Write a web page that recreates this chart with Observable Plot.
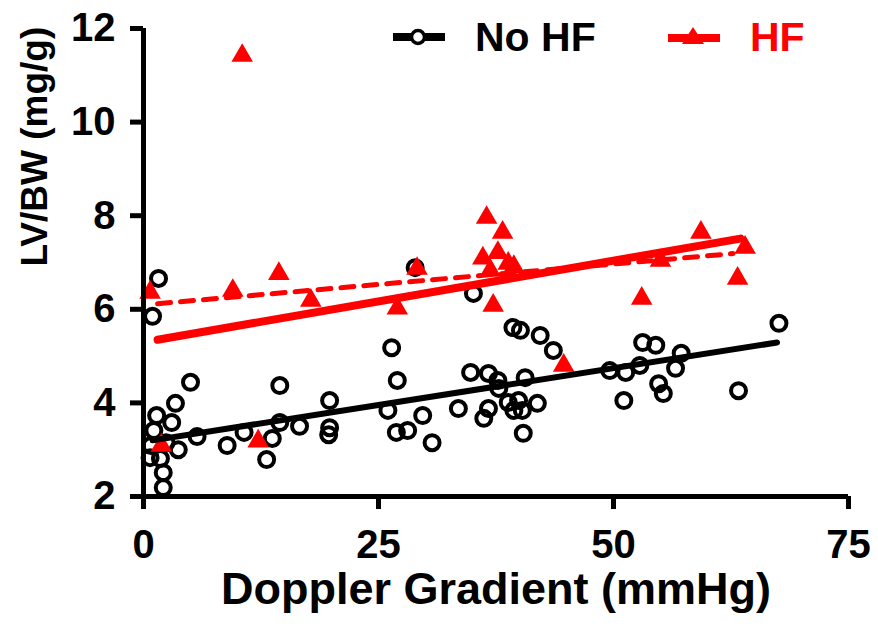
<!DOCTYPE html>
<html>
<head>
<meta charset="utf-8">
<script src="https://cdn.jsdelivr.net/npm/d3@7"></script>
<script src="https://cdn.jsdelivr.net/npm/@observablehq/plot@0.6"></script>
<style>
  html, body { margin: 0; padding: 0; background: #fff; }
  #wrap { position: relative; width: 878px; height: 631px; font-family: "Liberation Sans", Arial, sans-serif; }
  .leg { position: absolute; top: 14px; font-size: 41px; font-weight: bold; line-height: 46px; display: flex; align-items: center; }
  .leg svg { margin-right: 30px; }
</style>
</head>
<body>
<div id="wrap">
  <div id="chart"></div>
  <div class="leg" style="left:393px;color:#000">
    <svg width="52" height="24"><line x1="0" x2="52" y1="12" y2="12" stroke="#000" stroke-width="8"/><circle cx="25" cy="12" r="6.5" fill="#fff" stroke="#000" stroke-width="3.5"/></svg>No HF
  </div>
  <div class="leg" style="left:668px;color:#ff0000">
    <svg width="52" height="24"><line x1="0" x2="52" y1="13" y2="13" stroke="#ff0000" stroke-width="8"/><path d="M25,2 L36,19 L14,19 Z" fill="#ff0000"/></svg>HF
  </div>
</div>
<script>
// No HF (open circles)
const noHF_x = [1.6, 0.96, 5.0, 3.4, 1.4, 3.0, 1.1, 5.7, 8.9, 10.7, 3.7, 1.8, 0.7, 2.1, 2.1, 2.4, 0.8,
  14.5, 27.0, 19.8, 14.5, 16.6, 19.8, 19.7, 13.7, 26.0, 29.7, 26.9, 28.1, 30.7, 13.1,
  35.1, 28.9, 39.3, 40.1, 42.2, 43.6, 26.4, 34.8, 36.7, 37.7, 37.8, 40.6, 33.5, 36.2, 36.7,
  38.8, 39.9, 39.4, 40.3, 41.9, 40.4,
  53.1, 54.5, 57.2, 49.6, 51.3, 52.8, 56.6, 54.8, 55.3, 51.1, 63.3, 67.6];
const noHF_y = [6.66, 5.85, 4.44, 3.99, 3.73, 3.58, 3.41, 3.28, 3.09, 3.37, 3.0, 2.81, 2.83, 2.51, 2.19, 3.15, 3.09,
  4.37, 4.48, 4.05, 3.58, 3.50, 3.47, 3.32, 3.24, 3.84, 3.73, 3.37, 3.41, 3.15, 2.79,
  6.34, 6.89, 5.61, 5.55, 5.44, 5.12, 5.18, 4.65, 4.63, 4.48, 4.31, 4.54, 3.88, 3.67, 3.88,
  4.01, 4.05, 3.84, 3.84, 3.99, 3.35,
  5.29, 5.23, 5.06, 4.69, 4.65, 4.80, 4.74, 4.41, 4.20, 4.05, 4.26, 5.70];

// HF (filled triangles)
const HF_x = [0.7, 1.9, 9.5, 10.5, 12.2, 14.4, 17.8, 27.0, 29.1, 36.5, 38.2, 37.7, 36.1, 36.9, 38.8, 39.4, 37.2,
  44.7, 53.0, 55.0, 59.3, 63.2, 64.0];
const HF_y = [6.36, 3.09, 6.40, 11.42, 3.18, 6.76, 6.19, 6.02, 6.87, 7.96, 7.64, 7.21, 7.09, 6.83, 6.98, 6.91, 6.08,
  4.80, 6.23, 7.04, 7.64, 6.66, 7.32];

// fitted lines (endpoints)
const fitNoHF_x = [0.96, 67.4], fitNoHF_y = [3.20, 5.29];
const fitHF_x = [1.5, 63.5], fitHF_y = [5.35, 7.51];
const fitHFdash_x = [1.5, 62.7], fitHFdash_y = [6.12, 7.19];

const xTicks = [0, 25, 50, 75];
const yTicks = [2, 4, 6, 8, 10, 12];

const noHF = noHF_x.map((x, i) => ({x, y: noHF_y[i]}));
const HF = HF_x.map((x, i) => ({x, y: HF_y[i]}));
const pts = (xs, ys) => xs.map((x, i) => ({x, y: ys[i]}));

const font = "'Liberation Sans', Arial, sans-serif";
const chart = Plot.plot({
  width: 878,
  height: 631,
  marginLeft: 143,
  marginRight: 30,
  marginTop: 28,
  marginBottom: 135,
  style: {fontFamily: font, background: "#fff", color: "#000"},
  x: {domain: [0, 75]},
  y: {domain: [2, 12]},
  marks: [
    Plot.dot(noHF, {x: "x", y: "y", r: 7.5, stroke: "#000", strokeWidth: 4, fill: "none"}),
    Plot.dot(HF, {x: "x", y: "y", r: 8, symbol: "triangle", fill: "#ff0000", stroke: "none"}),
    Plot.line(pts(fitNoHF_x, fitNoHF_y), {x: "x", y: "y", stroke: "#000", strokeWidth: 6}),
    Plot.line(pts(fitHF_x, fitHF_y), {x: "x", y: "y", stroke: "#ff0000", strokeWidth: 8}),
    Plot.line(pts(fitHFdash_x, fitHFdash_y), {x: "x", y: "y", stroke: "#ff0000", strokeWidth: 5, strokeDasharray: "13,10"}),
    Plot.ruleY([2], {stroke: "#000", strokeWidth: 5}),
    Plot.ruleX([0], {stroke: "#000", strokeWidth: 5}),
    Plot.axisX({ticks: xTicks, tickSize: 13, tickPadding: 20, strokeWidth: 5, fontSize: 40, fontWeight: "bold", label: null, tickFormat: d => d}),
    Plot.axisY({ticks: yTicks, tickSize: 13, tickPadding: 15, strokeWidth: 5, fontSize: 40, fontWeight: "bold", label: null, tickFormat: d => d}),
    Plot.text(["Doppler Gradient (mmHg)"], {frameAnchor: "bottom", dy: 107, fontSize: 45, fontWeight: "bold", fill: "#000"}),
    Plot.text(["LV/BW (mg/g)"], {frameAnchor: "left", rotate: -90, dx: -108, dy: 4, fontSize: 37, fontWeight: "bold", fill: "#000",
      fontFamily: "'Liberation Sans Narrow', 'Arial Narrow', 'Liberation Sans', Arial, sans-serif"})
  ]
});
document.getElementById("chart").appendChild(chart);
</script>
</body>
</html>
